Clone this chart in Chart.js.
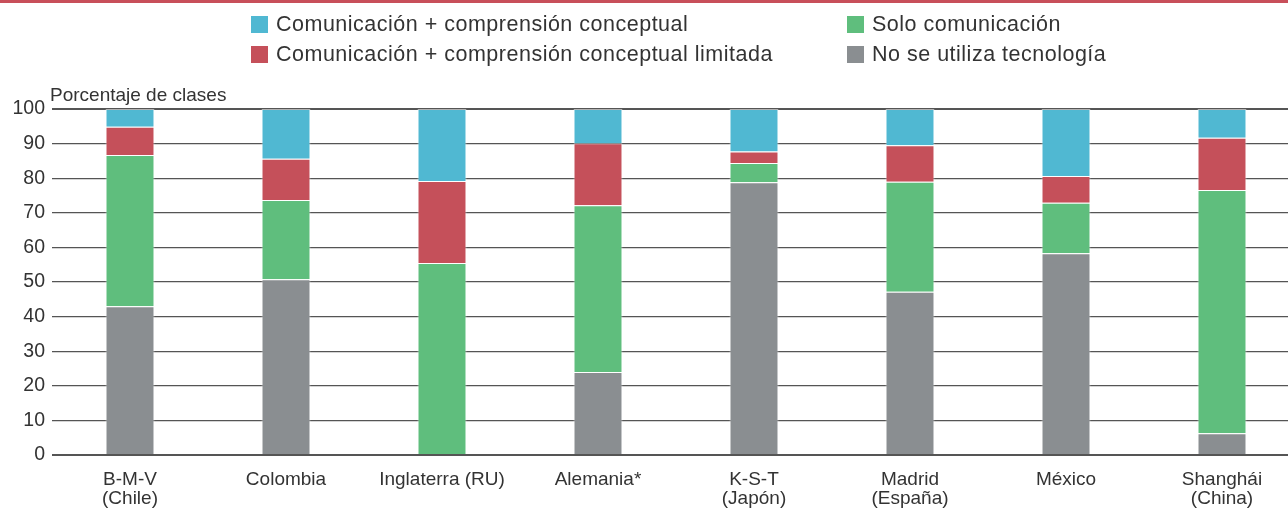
<!DOCTYPE html>
<html lang="es">
<head>
<meta charset="utf-8">
<script src="https://cdn.jsdelivr.net/npm/chart.js@4"></script>
<style>
  html, body { margin: 0; padding: 0; background: #fff; overflow: hidden; }
  body { width: 1288px; height: 508px; position: relative; font-family: "Liberation Sans", Arial, sans-serif; }
  .topline { position: absolute; left: 0; top: 0; width: 1288px; height: 3px; background: #c84f5a; }
  .legend { position: absolute; font-size: 21.5px; color: #333; letter-spacing: 0.5px; }
  .legend .item { position: absolute; white-space: nowrap; line-height: 22px; }
  .legend .sw { position: absolute; left: 0; top: 3px; width: 17px; height: 17px; }
  .legend .tx { position: absolute; left: 25px; top: 0; }
  #wrap { position: absolute; left: 0; top: 0; width: 1300px; height: 508px; }
</style>
</head>
<body>
<div class="topline"></div>
<div id="wrap"><canvas id="chart"></canvas></div>
<div class="legend" id="legend"></div>
<script>
document.addEventListener("DOMContentLoaded", () => {
  const categories = [
    ["B-M-V", "(Chile)"], "Colombia", "Inglaterra (RU)", "Alemania*",
    ["K-S-T", "(Japón)"], ["Madrid", "(España)"], "México", ["Shanghái", "(China)"]
  ];
  const noTecnologia = [43.0, 50.8, 0, 24.0, 78.8, 47.2, 58.3, 6.3];
  const soloComunicacion = [43.7, 22.9, 55.5, 48.2, 5.6, 31.8, 14.6, 70.3];
  const compLimitada = [8.2, 11.9, 23.7, 17.9, 3.3, 10.5, 7.7, 15.1];
  const compConceptual = [5.1, 14.4, 20.8, 9.9, 12.3, 10.5, 19.4, 8.3];
  const yTicks = [0, 10, 20, 30, 40, 50, 60, 70, 80, 90, 100];

  const colors = {
    blue: "#50b8d2",
    red: "#c5505a",
    green: "#5fbe7d",
    gray: "#8a8e91",
  };
  const fontFamily = "'Liberation Sans', Arial, sans-serif";

  // legend (two columns, like the reference)
  const legendItems = [
    { label: "Comunicación + comprensión conceptual", color: colors.blue, x: 251, y: 13 },
    { label: "Comunicación + comprensión conceptual limitada", color: colors.red, x: 251, y: 43 },
    { label: "Solo comunicación", color: colors.green, x: 847, y: 13 },
    { label: "No se utiliza tecnología", color: colors.gray, x: 847, y: 43 },
  ];
  const legendEl = document.getElementById("legend");
  legendItems.forEach((it) => {
    const d = document.createElement("div");
    d.className = "item";
    d.style.left = it.x + "px";
    d.style.top = it.y + "px";
    d.innerHTML = '<span class="sw" style="background:' + it.color + '"></span><span class="tx">' + it.label + "</span>";
    legendEl.appendChild(d);
  });

  const yTitle = {
    id: "yTitle",
    afterDraw(chart) {
      const { ctx, chartArea } = chart;
      ctx.save();
      ctx.font = "19px " + fontFamily;
      ctx.fillStyle = "#333";
      ctx.textAlign = "left";
      ctx.textBaseline = "alphabetic";
      ctx.fillText("Porcentaje de clases", 50, chartArea.top - 8);
      ctx.restore();
    },
  };

  const barStyle = {
    borderColor: "rgba(255,255,255,0.55)",
    borderWidth: 1,
    barPercentage: 1,
    categoryPercentage: 0.314,
  };

  new Chart(document.getElementById("chart"), {
    type: "bar",
    data: {
      labels: categories,
      datasets: [
        { label: "No se utiliza tecnología", data: noTecnologia, backgroundColor: colors.gray, ...barStyle },
        { label: "Solo comunicación", data: soloComunicacion, backgroundColor: colors.green, ...barStyle },
        { label: "Comunicación + comprensión conceptual limitada", data: compLimitada, backgroundColor: colors.red, ...barStyle },
        { label: "Comunicación + comprensión conceptual", data: compConceptual, backgroundColor: colors.blue, ...barStyle },
      ],
    },
    options: {
      responsive: true,
      maintainAspectRatio: false,
      animation: false,
      layout: { padding: { top: 109, right: 0, bottom: 0, left: 0 } },
      plugins: {
        legend: { display: false },
        tooltip: { enabled: false },
      },
      scales: {
        x: {
          stacked: true,
          grid: { display: false },
          border: { display: false },
          ticks: {
            color: "#333",
            font: { size: 19, family: fontFamily, lineHeight: 1.02 },
            padding: 7,
            maxRotation: 0,
            autoSkip: false,
          },
          afterFit: (scale) => { scale.height = 53; },
        },
        y: {
          stacked: true,
          min: 0,
          max: 100,
          afterBuildTicks: (scale) => { scale.ticks = yTicks.map((v) => ({ value: v })); },
          grid: {
            color: "#555",
            lineWidth: (ctx) => (ctx.tick && (ctx.tick.value === 0 || ctx.tick.value === 100) ? 2 : 1.2),
            drawTicks: false,
          },
          border: { display: false },
          ticks: {
            color: "#333",
            font: { size: 19.5, family: fontFamily },
            padding: 7,
          },
          afterFit: (scale) => { scale.width = 52; },
        },
      },
    },
    plugins: [yTitle],
  });
});
</script>
</body>
</html>
